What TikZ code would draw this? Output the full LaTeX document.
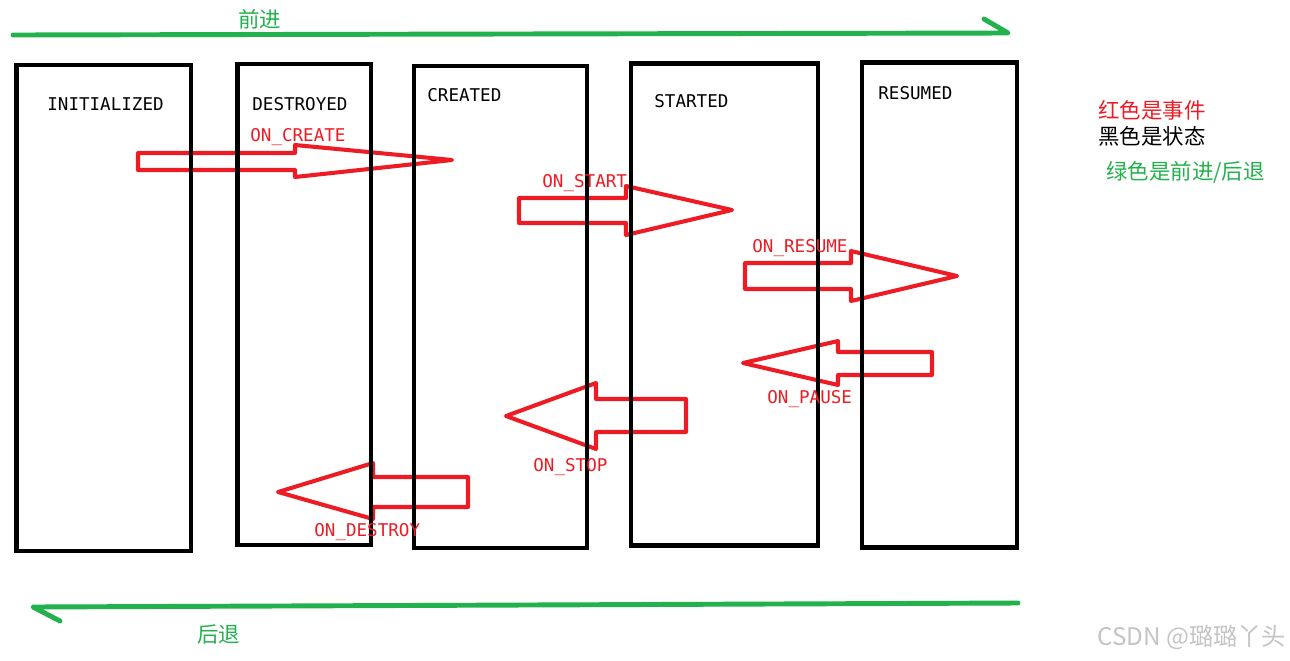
\documentclass[tikz,border=0pt]{standalone}
\usepackage{fontspec}
\setmainfont{Noto Sans CJK SC}
\newfontfamily\statefont{DejaVu Sans Mono}
\usetikzlibrary{positioning}
\definecolor{eventred}{HTML}{ED1C24}
\definecolor{flowgreen}{HTML}{22B14C}
\definecolor{markgray}{HTML}{C4C4C4}
\tikzset{
  state box/.style={draw=black, line width=2.7pt, inner sep=0pt},
  state name/.style={font=\statefont\fontsize{10}{12}\selectfont, anchor=base west, inner sep=0pt},
  event name/.style={state name, text=eventred},
  event arrow/.style={draw=eventred, line width=2.3pt, line join=round},
  flow line/.style={flowgreen, line width=2.8pt, line cap=round, line join=round},
  note/.style={font=\fontsize{12.2}{14}\selectfont, anchor=west, inner sep=0pt},
}

\begin{document}
\begin{tikzpicture}[x=0.2mm,y=-0.2mm]
  \useasboundingbox (0,0) rectangle (1290,660);

  % forward / backward
  \coordinate (fwd start) at (13,35);
  \coordinate (fwd end) at (1008,33);
  \coordinate (fwd barb) at (984,19);
  \draw[flow line] (fwd start) -- (fwd end) -- (fwd barb);
  \node[note, text=flowgreen] (fwd text) at (238,19) {前进};

  \coordinate (back start) at (1018,603);
  \coordinate (back end) at (33,607);
  \coordinate (back barb) at (60,621);
  \draw[flow line] (back start) -- (back end) -- (back barb);
  \node[note, text=flowgreen] (back text) at (197,634) {后退};

  % event arrows: tail x / shaft top / shaft bottom / head x / head top / head bottom / tip
  \foreach \tx/\st/\sb/\bx/\ht/\hb/\px/\py in {
      138/153/170/295/145/177/452/160,
      519/198/223/626/186/235/732/210,
      745/263/289/851/251/301/957/276,
      932/352/375/838/341/385/743/363,
      686/399/432/596/383/449/506/416,
      468/477/507/373/463/519/278/492}
    \draw[event arrow] (\tx,\st) -- (\bx,\st) -- (\bx,\ht) -- (\px,\py)
      -- (\bx,\hb) -- (\bx,\sb) -- (\tx,\sb) -- cycle;

  % states
  \foreach \n/\cx/\cy/\w/\h in {initialized/103.75/308/34.9/97.2,
      destroyed/304.25/304.5/26.7/96.2, created/500.5/307/34.6/96.4,
      started/724.5/304.5/37.4/96.4, resumed/939.5/305/31/97}
    \node[state box, minimum width=\w mm, minimum height=\h mm] (\n) at (\cx,\cy) {};

  \node[state name] (initialized name) at (47,110) {INITIALIZED};
  \node[state name] (destroyed name) at (252,110) {DESTROYED};
  \node[state name] (created name) at (427,101.5) {CREATED};
  \node[state name] (started name) at (654,107.5) {STARTED};
  \node[state name] (resumed name) at (878,99.5) {RESUMED};

  % events
  \node[event name] (on create) at (250,141) {ON\_CREATE};
  \node[event name] (on start) at (542,187) {ON\_START};
  \node[event name] (on resume) at (752,252) {ON\_RESUME};
  \node[event name] (on pause) at (767,403) {ON\_PAUSE};
  \node[event name] (on stop) at (533,471) {ON\_STOP};
  \node[event name] (on destroy) at (314,536) {ON\_DESTROY};

  % legend
  \node[note, text=eventred] (red note) at (1098,110) {红色是事件};
  \node[note] (black note) at (1098,136) {黑色是状态};
  \node[note, text=flowgreen] (green note) at (1106,172.5) {绿色是前进/后退};

  \node[note, text=markgray, font=\fontsize{13.8}{16}\selectfont] (mark) at (1097,637) {CSDN @璐璐丫头};
\end{tikzpicture}
\end{document}
